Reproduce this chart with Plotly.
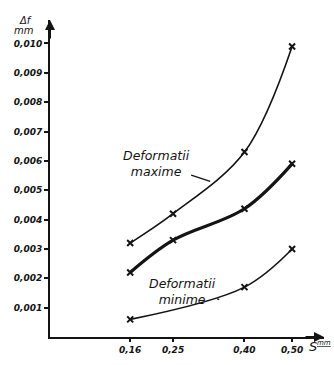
import plotly.graph_objects as go

# Data
feed = [0.16, 0.25, 0.40, 0.50]            # S, mm/rot
def_max = [0.0032, 0.0042, 0.0063, 0.0099]  # maximum deformations, mm
def_mid = [0.0022, 0.0033, 0.00437, 0.0059]  # middle (thick) curve, mm
feed_min = [0.16, 0.40, 0.50]
def_min = [0.0006, 0.0017, 0.0030]           # minimum deformations, mm

y_ticks = [0.001, 0.002, 0.003, 0.004, 0.005, 0.006, 0.007, 0.008, 0.009, 0.010]
y_ticktext = ["0,001", "0,002", "0,003", "0,004", "0,005", "0,006", "0,007", "0,008", "0,009", "0,010"]
x_ticks = [0.16, 0.25, 0.40, 0.50]
x_ticktext = ["0,16", "0,25", "0,40", "0,50"]

INK = "#141414"
tickfont = dict(family="DejaVu Sans", size=9, color=INK, style="italic", weight="bold")
labfont = dict(family="DejaVu Sans", size=12.5, color=INK, style="italic")
smallfont = dict(family="DejaVu Sans", size=10, color=INK, style="italic")

fig = go.Figure()
marker = dict(symbol="x-thin", size=6, line=dict(width=2, color=INK), color=INK)
fig.add_trace(go.Scatter(x=feed, y=def_max, mode="lines+markers",
                         line=dict(color=INK, width=1.6, shape="spline", smoothing=1.0),
                         marker=marker, showlegend=False))
fig.add_trace(go.Scatter(x=feed, y=def_mid, mode="lines+markers",
                         line=dict(color=INK, width=3.2, shape="spline", smoothing=1.0),
                         marker=marker, showlegend=False))
fig.add_trace(go.Scatter(x=feed_min, y=def_min, mode="lines+markers",
                         line=dict(color=INK, width=1.6, shape="spline", smoothing=1.0),
                         marker=marker, showlegend=False))

annotations = [
    dict(x=0.328, y=0.0053, xref="x", yref="y", ax=-54, ay=-18,
         text="Deformatii<br>maxime", showarrow=True, arrowhead=0, arrowwidth=1.3,
         arrowcolor=INK, font=labfont, align="center"),
    dict(x=0.347, y=0.00128, xref="x", yref="y", ax=-37, ay=-8,
         text="Deformatii<br>minime", showarrow=True, arrowhead=0, arrowwidth=1.3,
         arrowcolor=INK, font=labfont, align="center"),
    # axis arrows
    dict(x=1, y=0, xref="paper", yref="paper", ax=-20, ay=0, text="", showarrow=True,
         arrowhead=2, arrowsize=1, arrowwidth=2, arrowcolor=INK),
    dict(x=0, y=1, xref="paper", yref="paper", ax=0, ay=20, text="", showarrow=True,
         arrowhead=2, arrowsize=1, arrowwidth=2, arrowcolor=INK),
    # axis labels
    dict(x=-0.091, y=1.0, xref="paper", yref="paper", xanchor="center", yanchor="middle",
         text="Δf", showarrow=False, font=smallfont),
    dict(x=-0.095, y=0.968, xref="paper", yref="paper", xanchor="center", yanchor="middle",
         text="mm", showarrow=False, font=smallfont),
    dict(x=0.938, y=-0.03, xref="paper", yref="paper", xanchor="left", yanchor="middle",
         text="S", showarrow=False,
         font=dict(family="DejaVu Sans", size=13, color=INK, style="italic")),
    dict(x=1.033, y=-0.018, xref="paper", yref="paper", xanchor="right", yanchor="middle",
         text="<u>mm</u>", showarrow=False,
         font=dict(family="DejaVu Sans", size=7, color=INK, style="italic")),
]

fig.update_layout(
    width=334, height=365,
    margin=dict(l=50, r=10, t=20, b=21),
    paper_bgcolor="white", plot_bgcolor="white",
    annotations=annotations,
    xaxis=dict(range=[-0.0084, 0.567], tickvals=x_ticks, ticktext=x_ticktext,
               showgrid=False, zeroline=False, showline=True, linecolor=INK, linewidth=2,
               ticks="outside", ticklen=3, tickwidth=1.5, tickcolor=INK, tickfont=tickfont),
    yaxis=dict(range=[0, 0.0108], tickvals=y_ticks, ticktext=y_ticktext,
               showgrid=False, zeroline=False, showline=True, linecolor=INK, linewidth=2,
               ticks="outside", ticklen=4, tickwidth=1.5, tickcolor=INK, tickfont=tickfont),
)

fig.write_html("out.html")
